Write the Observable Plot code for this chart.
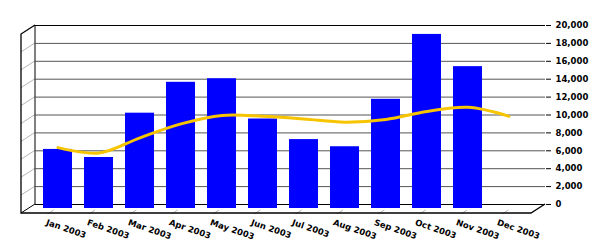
<!DOCTYPE html>
<html>
<head>
<meta charset="utf-8">
<script src="https://cdn.jsdelivr.net/npm/d3@7"></script>
<script src="https://cdn.jsdelivr.net/npm/@observablehq/plot@0.6"></script>
<style>
  html, body { margin: 0; padding: 0; background: #fff; }
  #chart svg { display: block; }
</style>
</head>
<body>
<div id="chart"></div>
<script>
const months = ["Jan 2003","Feb 2003","Mar 2003","Apr 2003","May 2003","Jun 2003",
                "Jul 2003","Aug 2003","Sep 2003","Oct 2003","Nov 2003","Dec 2003"];
const barValues = [6600, 5700, 10650, 14100, 14500, 10000, 7700, 6900, 12200, 19450, 15850, null];
const trendValues = [6800, 6200, 7900, 9450, 10400, 10300, 10000, 9650, 9950, 10850, 11300, 10300];
const yTicks = [0, 2000, 4000, 6000, 8000, 10000, 12000, 14000, 16000, 18000, 20000];

const bars = months.map((m, i) => ({month: m, value: barValues[i]})).filter(d => d.value != null);
const trend = months.map((m, i) => ({month: m, value: trendValues[i]}));

const W = 600, H = 250;
const mL = 35, mR = 55, mT = 25, mB = 46;
const depthX = -14, depthY = 9;
const font = "'DejaVu Sans', Verdana, sans-serif";

const plot = Plot.plot({
  width: W,
  height: H,
  marginLeft: mL,
  marginRight: mR,
  marginTop: mT,
  marginBottom: mB,
  style: {fontFamily: font, background: "#fff", color: "#000"},
  x: {domain: months, range: [mL, W - mR + depthX], paddingInner: 0.3, paddingOuter: 0.15, axis: null},
  y: {domain: [0, 20000], axis: null, label: null},
  marks: [
    Plot.gridY(yTicks, {stroke: "#555", strokeOpacity: 1}),
    Plot.ruleY([0, 20000], {stroke: "#000"}),
    Plot.barY(bars, {x: "month", y: "value", fill: "#0000ff", dy: 4}),
    Plot.line(trend, {x: "month", y: "value", stroke: "#f7c400", strokeWidth: 3, curve: "catmull-rom", dy: 4}),
    Plot.axisY(yTicks, {anchor: "right", label: null, tickFormat: d3.format(","), tickSize: 5, tickPadding: 5,
      fontSize: 8.5, fontWeight: "bold", fill: "#000"}),
    Plot.text(months, {x: d => d, frameAnchor: "bottom", rotate: 19, textAnchor: "start", lineAnchor: "top",
      dx: -10.5, dy: 14.5, fontSize: 8.5, fontWeight: "bold", fill: "#000"})
  ]
});

document.getElementById("chart").appendChild(plot);

// 3D frame decorations derived from the plot's own scales
const ys = plot.scale("y");
const xs = plot.scale("x");
const yScale = d3.scaleLinear(ys.domain, ys.range);
const xScale = d3.scaleBand(xs.domain, xs.range)
  .paddingInner(xs.paddingInner ?? 0.3).paddingOuter(xs.paddingOuter ?? 0.15).align(xs.align ?? 0.5);

const svg = d3.select(plot);
const deco = svg.insert("g", "g").attr("fill", "none");
const y0 = yScale(0), yTop = yScale(20000);
const xBack = mL, xRight = W - mR;

// wall gridlines
deco.selectAll("line.wall").data(yTicks.filter(v => v > 0 && v < 20000)).join("line")
  .attr("x1", xBack).attr("y1", d => yScale(d))
  .attr("x2", xBack + depthX).attr("y2", d => yScale(d) + depthY)
  .attr("stroke", "#b5b5b5");

// floor ticks
deco.selectAll("line.floor").data(months).join("line")
  .attr("x1", d => xScale(d) + xScale.bandwidth() / 2 - 8).attr("y1", y0 + depthY + 1)
  .attr("x2", d => xScale(d) + xScale.bandwidth() / 2 - 2).attr("y2", y0 + depthY - 3)
  .attr("stroke", "#b5b5b5");

// back-left vertical edge
deco.append("line").attr("x1", xBack).attr("x2", xBack).attr("y1", yTop).attr("y2", y0).attr("stroke", "#000");

// left wall outline and floor outline
const outline = d3.path();
outline.moveTo(xBack, yTop);
outline.lineTo(xBack + depthX, yTop + depthY);
outline.lineTo(xBack + depthX, y0 + depthY);
outline.lineTo(xRight + depthX, y0 + depthY);
outline.lineTo(xRight, y0);
svg.append("path").attr("d", outline.toString()).attr("fill", "none").attr("stroke", "#000").attr("stroke-width", 1.3);
svg.append("line").attr("x1", xBack).attr("y1", y0).attr("x2", xBack + depthX).attr("y2", y0 + depthY)
  .attr("stroke", "#000");
</script>
</body>
</html>
